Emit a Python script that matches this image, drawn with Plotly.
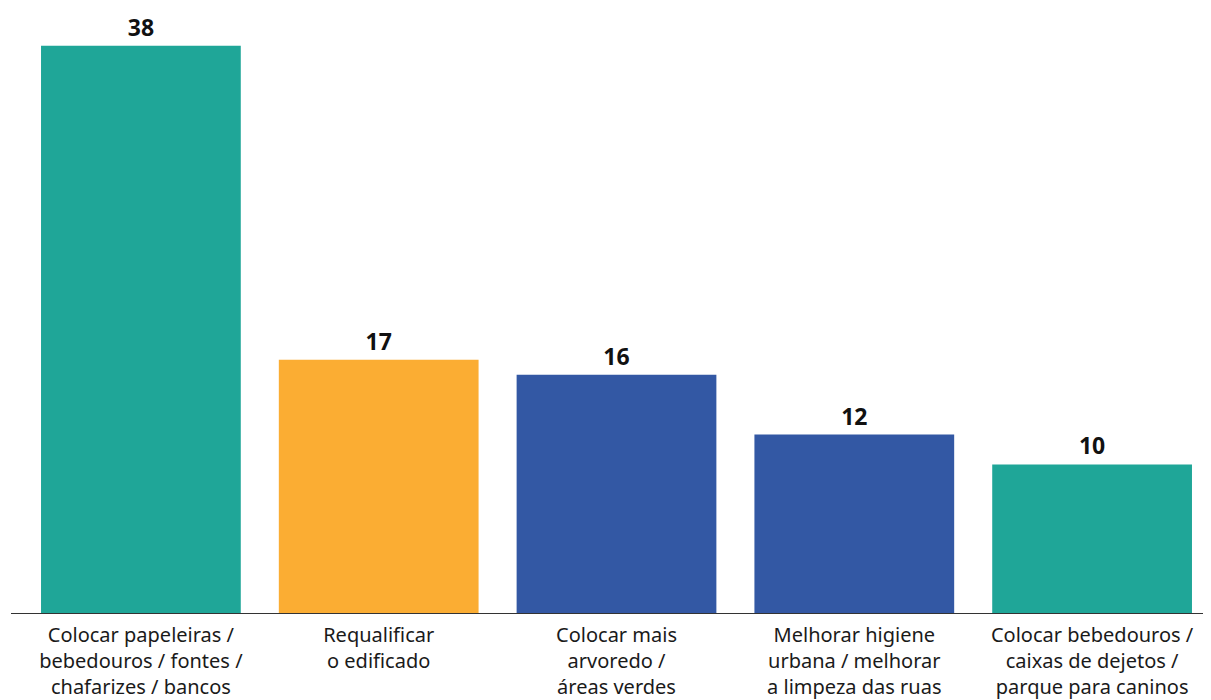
import plotly.graph_objects as go

categories = [
    "Colocar papeleiras /<br>bebedouros / fontes /<br>chafarizes / bancos",
    "Requalificar<br>o edificado",
    "Colocar mais<br>arvoredo /<br>áreas verdes",
    "Melhorar higiene<br>urbana / melhorar<br>a limpeza das ruas",
    "Colocar bebedouros /<br>caixas de dejetos /<br>parque para caninos",
]
values = [38, 17, 16, 12, 10]
colors = ["#1fa698", "#fbad33", "#3358a4", "#3358a4", "#1fa698"]

fig = go.Figure(go.Bar(
    x=categories, y=values,
    marker=dict(color=colors, line=dict(width=0)),
    text=[str(v) for v in values],
    textposition="outside",
    textfont=dict(family="Noto Sans", size=23, color="#111111", weight="bold"),
    cliponaxis=False,
))

fig.update_layout(
    width=1203, height=692,
    margin=dict(l=14, r=0, t=0, b=86),
    paper_bgcolor="white", plot_bgcolor="white",
    bargap=0.16,
    showlegend=False,
    font=dict(family="Noto Sans", size=20, color="#1a1a1a"),
    xaxis=dict(showline=False, ticks="", tickfont=dict(size=20), showgrid=False,
               ticklabelstandoff=7),
    yaxis=dict(range=[0, 40.53], visible=False, showgrid=False, zeroline=False),
    shapes=[dict(type="line", xref="paper", yref="y", x0=-11/1189, x1=1, y0=0, y1=0,
                 line=dict(color="#333333", width=2))],
)

fig.write_html("out.html")
